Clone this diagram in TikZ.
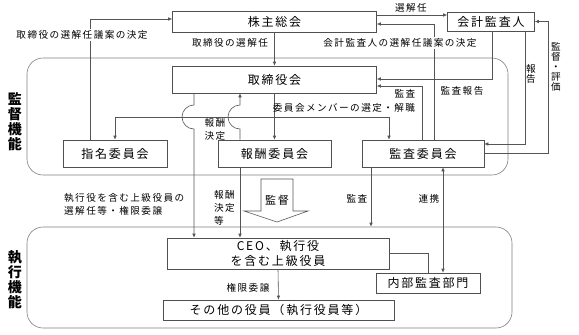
\documentclass[tikz,border=0pt]{standalone}
\usepackage{fontspec}
\setmainfont{Noto Sans CJK JP}[LetterSpace=15]
\usepackage{xcolor}
\usepackage{tikz}
\usetikzlibrary{arrows.meta}
\definecolor{linec}{HTML}{555555}
\definecolor{boxc}{HTML}{505050}
\definecolor{areac}{HTML}{808080}
\tikzset{
  ar/.style={-{Latex[length=4pt,width=3.5pt]},line width=0.6pt,linec},
  ab/.style={{Latex[length=4pt,width=3.5pt]}-{Latex[length=4pt,width=3.5pt]},line width=0.6pt,linec},
  ln/.style={line width=0.6pt,linec},
  box/.style={draw=boxc,line width=0.6pt,fill=white,inner sep=0pt,align=center,minimum height=27pt,font=\fontsize{12}{15}\selectfont},
  area/.style={draw=areac,line width=0.6pt,rounded corners=16pt,inner sep=0pt},
  lb/.style={font=\fontsize{9.6}{13}\selectfont,inner sep=1pt,align=center},
  lbv/.style={font=\fontsize{9.6}{10}\selectfont,inner sep=1pt,align=center},
  lbw/.style={lb,fill=white,inner sep=2pt},
  hd/.style={font=\bfseries\fontsize{14}{15}\selectfont,align=center,inner sep=0pt}
}
\begin{document}
\begin{tikzpicture}[x=1pt,y=-1pt]
\useasboundingbox (0,0) rectangle (579,335);
\node[area,minimum width=481pt,minimum height=117pt] (sup) at (267.5,116.5) {};
\node[area,minimum width=485pt,minimum height=101pt] (exe) at (269.5,277.5) {};
\node[hd] (supl) at (15,122) {監\\督\\機\\能};
\node[hd] (exel) at (15,280) {執\\行\\機\\能};
\node[box,minimum width=204pt,minimum height=21pt] (kabu) at (274.5,21.5) {株主総会};
\node[box,minimum width=87pt,minimum height=19pt] (kaikei) at (491,21.5) {会計監査人};
\node[box,minimum width=204pt] (tori) at (274.5,79.5) {取締役会};
\node[box,minimum width=104pt] (shimei) at (115,153.5) {指名委員会};
\node[box,minimum width=113pt] (houshu) at (274.5,153.5) {報酬委員会};
\node[box,minimum width=122pt] (kansa) at (423,153.5) {監査委員会};
\node[box,minimum width=222pt,minimum height=31pt] (ceo) at (278,253.5) {CEO、執行役\\を含む上級役員};
\node[box,minimum width=104pt,minimum height=20pt] (naibu) at (428,283) {内部監査部門};
\node[box,minimum width=231pt,minimum height=20pt] (sonota) at (278.5,310) {その他の役員（執行役員等）};
\draw[ar] (shimei.north -| 90,0) |- (kabu.west |- 0,19);
\draw[ar] (kabu.south) -- (tori.north);
\draw[ar] (kabu.east |- 0,15) -- (kaikei.west |- 0,15);
\draw[ar] (kansa.north -| 434,0) |- (kabu.east |- 0,24);
\draw[ar] (kaikei.south -| 492,0) |- (tori.east |- 0,79);
\draw[ar] (kaikei.south -| 525,0) |- (kansa.east |- 0,144);
\draw[ar] (kansa.east) -| ([xshift=13pt]kaikei.east) -- (kaikei.east);
\draw[ar] (kansa.north -| 422,0) |- (tori.east |- 0,86);
\draw[ar] (tori.south) -- (houshu.north);
\draw[ar] (tori.south |- 0,117) -| (shimei.north);
\draw[ar] (tori.south |- 0,117) -| (kansa.north -| 389,0);
\draw[ar] (tori.south -| 194,0) -- (194,105) arc[start angle=270,end angle=90,radius=12] -- (ceo.north -| 194,0);
\draw[ar] (houshu.north -| 240,0) -- (240,129) arc[start angle=90,end angle=270,radius=12] -- (tori.south -| 240,0);
\draw[ar] (houshu.south -| 240,0) -- (ceo.north -| 240,0);
\draw[ar] (kansa.south -| 371,0) -- (exe.north -| 371,0);
\draw[ab] (kansa.south -| 443,0) -- (naibu.north -| 443,0);
\draw[ln] (ceo.east) -| (naibu.north);
\draw[ar] (ceo.south) -- (sonota.north);
\draw[ln,fill=white] (261,179) -- (293,179) -- (293,211) -- (308,211) -- (277,222) -- (244,211) -- (261,211) -- cycle;
\node[lb,font=\fontsize{11}{13}\selectfont] (kantoku) at (277,200) {監督};
\node[lbw] (l1) at (82,35) {取締役の選解任議案の決定};
\node[lb] (l2) at (230,43) {取締役の選解任};
\node[lb] (l3) at (411,8) {選解任};
\node[lbw] (l4) at (400,43) {会計監査人の選解任議案の決定};
\node[lb] (l5) at (462,91) {監査報告};
\node[lbv] (l6) at (531,74) {報\\告};
\node[lbv] (l7) at (556,67) {監\\督\\・\\評\\価};
\node[lb] (l8) at (405,94) {監査};
\node[lb] (l9) at (344,108) {委員会メンバーの選定・解職};
\node[lb] (l10) at (215,129) {報酬\\決定};
\node[lb,anchor=west,align=left] (l11) at (63,204) {執行役を含む上級役員の\\選解任等・権限委譲};
\node[lb,anchor=west,align=left] (l12) at (213,208) {報酬\\決定\\等};
\node[lb] (l13) at (357,199) {監査};
\node[lb] (l14) at (429,199) {連携};
\node[lb] (l15) at (248,288) {権限委譲};
\end{tikzpicture}
\end{document}
